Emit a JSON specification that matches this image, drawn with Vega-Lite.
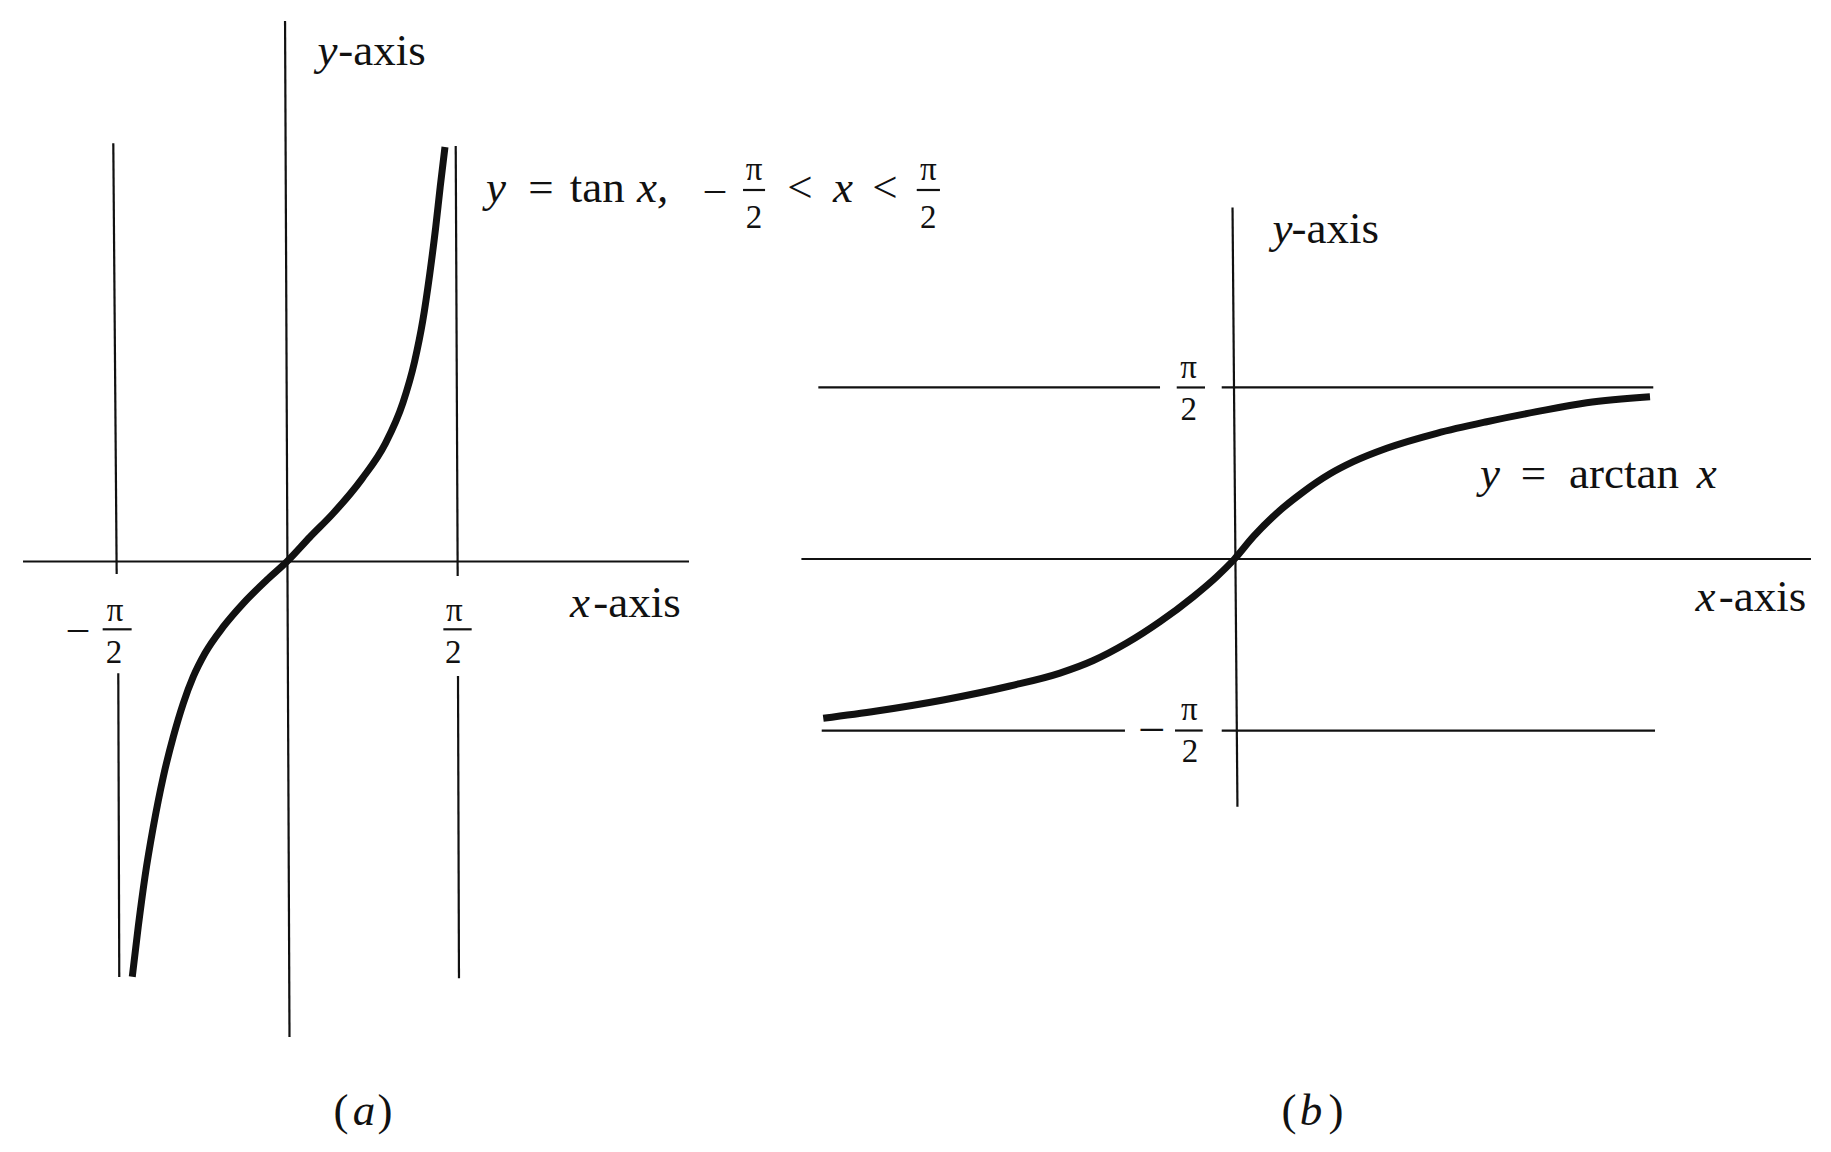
{
  "$schema": "https://vega.github.io/schema/vega-lite/v6.json",
  "width": 1831,
  "height": 1152,
  "padding": 0,
  "autosize": {"type": "none"},
  "background": "white",
  "config": {"view": {"stroke": null}},
  "datasets": {
    "tan_curve": [
      {"x": -1.426, "y": -3.827}, {"x": -1.371, "y": -3.366}, {"x": -1.309, "y": -2.905},
      {"x": -1.232, "y": -2.444}, {"x": -1.14, "y": -1.983}, {"x": -1.048, "y": -1.615},
      {"x": -0.956, "y": -1.307}, {"x": -0.864, "y": -1.062}, {"x": -0.756, "y": -0.846},
      {"x": -0.587, "y": -0.601}, {"x": -0.403, "y": -0.385}, {"x": -0.187, "y": -0.171},
      {"x": 0, "y": 0}, {"x": 0.212, "y": 0.226}, {"x": 0.422, "y": 0.44},
      {"x": 0.691, "y": 0.762}, {"x": 0.906, "y": 1.086}, {"x": 1.068, "y": 1.462},
      {"x": 1.175, "y": 1.839}, {"x": 1.251, "y": 2.217}, {"x": 1.315, "y": 2.646},
      {"x": 1.37, "y": 3.076}, {"x": 1.412, "y": 3.453}, {"x": 1.456, "y": 3.82}
    ],
    "tan_lines": [
      {"x": -2.433, "y": 0, "x2": 3.705, "y2": 0},
      {"x": -0.018, "y": 4.982, "x2": 0.023, "y2": -4.382},
      {"x": -1.601, "y": 3.854, "x2": -1.57, "y2": -0.115},
      {"x": -1.555, "y": -1.03, "x2": -1.546, "y2": -3.829},
      {"x": 1.555, "y": 3.829, "x2": 1.573, "y2": -0.134},
      {"x": 1.576, "y": -1.055, "x2": 1.585, "y2": -3.841},
      {"x": -1.699, "y": -0.625, "x2": -1.432, "y2": -0.625},
      {"x": 1.441, "y": -0.625, "x2": 1.702, "y2": -0.625},
      {"x": 4.203, "y": 3.424, "x2": 4.406, "y2": 3.424},
      {"x": 5.804, "y": 3.424, "x2": 6.018, "y2": 3.424}
    ],
    "tan_labels": [
      {"text": "y", "kind": "var", "x": 0.373, "y": 4.576},
      {"text": "-axis", "kind": "word", "x": 0.875, "y": 4.576},
      {"text": "x", "kind": "var", "x": 2.7, "y": -0.509},
      {"text": "-axis", "kind": "word", "x": 3.225, "y": -0.509},
      {"text": "y", "kind": "var", "x": 1.925, "y": 3.316},
      {"text": "=", "kind": "word", "x": 2.341, "y": 3.316},
      {"text": "tan", "kind": "word", "x": 2.86, "y": 3.316},
      {"text": "x,", "kind": "var", "x": 3.37, "y": 3.316},
      {"text": "–", "kind": "sign", "x": 3.945, "y": 3.32},
      {"text": "π", "kind": "small", "x": 4.304, "y": 3.516},
      {"text": "2", "kind": "small", "x": 4.304, "y": 3.071},
      {"text": "<", "kind": "word", "x": 4.728, "y": 3.316},
      {"text": "x", "kind": "var", "x": 5.124, "y": 3.316},
      {"text": "<", "kind": "word", "x": 5.512, "y": 3.316},
      {"text": "π", "kind": "small", "x": 5.911, "y": 3.516},
      {"text": "2", "kind": "small", "x": 5.911, "y": 3.071},
      {"text": "–", "kind": "sign", "x": -1.926, "y": -0.72},
      {"text": "π", "kind": "small", "x": -1.585, "y": -0.553},
      {"text": "2", "kind": "small", "x": -1.594, "y": -0.938},
      {"text": "π", "kind": "small", "x": 1.542, "y": -0.553},
      {"text": "2", "kind": "small", "x": 1.533, "y": -0.938},
      {"text": "(", "kind": "word", "x": 0.498, "y": -5.194},
      {"text": "a", "kind": "var", "x": 0.71, "y": -5.194},
      {"text": ")", "kind": "word", "x": 0.903, "y": -5.194}
    ],
    "atan_curve": [
      {"x": -3.766, "y": -1.459}, {"x": -3.277, "y": -1.392}, {"x": -2.668, "y": -1.291},
      {"x": -2.056, "y": -1.163}, {"x": -1.598, "y": -1.045}, {"x": -1.293, "y": -0.93},
      {"x": -0.987, "y": -0.77}, {"x": -0.682, "y": -0.574}, {"x": -0.377, "y": -0.345},
      {"x": -0.163, "y": -0.162}, {"x": 0, "y": 0}, {"x": 0.172, "y": 0.204},
      {"x": 0.386, "y": 0.418}, {"x": 0.63, "y": 0.615}, {"x": 0.875, "y": 0.78},
      {"x": 1.088, "y": 0.891}, {"x": 1.394, "y": 1.014}, {"x": 1.852, "y": 1.151},
      {"x": 2.31, "y": 1.257}, {"x": 2.767, "y": 1.349}, {"x": 3.225, "y": 1.431},
      {"x": 3.805, "y": 1.486}
    ],
    "atan_lines": [
      {"x": -3.966, "y": 0, "x2": 5.279, "y2": 0},
      {"x": -0.018, "y": 3.219, "x2": 0.027, "y2": -2.268},
      {"x": -3.811, "y": 1.5708, "x2": -0.682, "y2": 1.5708},
      {"x": -0.117, "y": 1.5708, "x2": 3.835, "y2": 1.5708},
      {"x": -3.78, "y": -1.5708, "x2": -1.003, "y2": -1.5708},
      {"x": -0.117, "y": -1.5708, "x2": 3.851, "y2": -1.5708},
      {"x": -0.529, "y": 1.5708, "x2": -0.27, "y2": 1.5708},
      {"x": -0.545, "y": -1.5708, "x2": -0.291, "y2": -1.5708}
    ],
    "atan_labels": [
      {"text": "y", "kind": "var", "x": 0.44, "y": 2.891},
      {"text": "-axis", "kind": "word", "x": 0.922, "y": 2.891},
      {"text": "x", "kind": "var", "x": 4.313, "y": -0.472},
      {"text": "-axis", "kind": "word", "x": 4.835, "y": -0.472},
      {"text": "y", "kind": "var", "x": 2.34, "y": 0.647},
      {"text": "=", "kind": "word", "x": 2.738, "y": 0.647},
      {"text": "arctan", "kind": "word", "x": 3.567, "y": 0.647},
      {"text": "x", "kind": "var", "x": 4.324, "y": 0.647},
      {"text": "π", "kind": "small", "x": -0.42, "y": 1.658},
      {"text": "2", "kind": "small", "x": -0.42, "y": 1.273},
      {"text": "–", "kind": "sign", "x": -0.758, "y": -1.654},
      {"text": "π", "kind": "small", "x": -0.413, "y": -1.474},
      {"text": "2", "kind": "small", "x": -0.408, "y": -1.856},
      {"text": "(", "kind": "word", "x": 0.499, "y": -5.183},
      {"text": "b", "kind": "var", "x": 0.701, "y": -5.183},
      {"text": ")", "kind": "word", "x": 0.93, "y": -5.183}
    ]
  },
  "layer": [
    {
      "layer": [
        {
          "data": {"name": "tan_lines"},
          "mark": {"type": "rule", "strokeWidth": 2.2, "color": "#111111"},
          "encoding": {
            "x": {"field": "x", "type": "quantitative", "scale": {"domain": [-2.6452, 14.2304], "nice": false, "zero": false}, "axis": null},
            "y": {"field": "y", "type": "quantitative", "scale": {"domain": [-5.4424, 5.1751], "nice": false, "zero": false}, "axis": null},
            "x2": {"field": "x2"},
            "y2": {"field": "y2"}
          }
        },
        {
          "data": {"name": "tan_curve"},
          "mark": {"type": "line", "strokeWidth": 7, "color": "#111111", "interpolate": "monotone"},
          "encoding": {
            "x": {"field": "x", "type": "quantitative", "scale": {"domain": [-2.6452, 14.2304], "nice": false, "zero": false}, "axis": null},
            "y": {"field": "y", "type": "quantitative", "scale": {"domain": [-5.4424, 5.1751], "nice": false, "zero": false}, "axis": null}
          }
        },
        {
          "data": {"name": "tan_labels"},
          "transform": [{"filter": "datum.kind === 'var'"}],
          "mark": {"type": "text", "font": "Liberation Serif", "fontSize": 45, "fontStyle": "italic", "align": "center", "baseline": "alphabetic", "color": "#111111"},
          "encoding": {
            "x": {"field": "x", "type": "quantitative", "scale": {"domain": [-2.6452, 14.2304], "nice": false, "zero": false}, "axis": null},
            "y": {"field": "y", "type": "quantitative", "scale": {"domain": [-5.4424, 5.1751], "nice": false, "zero": false}, "axis": null},
            "text": {"field": "text"}
          }
        },
        {
          "data": {"name": "tan_labels"},
          "transform": [{"filter": "datum.kind === 'word'"}],
          "mark": {"type": "text", "font": "Liberation Serif", "fontSize": 45, "align": "center", "baseline": "alphabetic", "color": "#111111"},
          "encoding": {
            "x": {"field": "x", "type": "quantitative", "scale": {"domain": [-2.6452, 14.2304], "nice": false, "zero": false}, "axis": null},
            "y": {"field": "y", "type": "quantitative", "scale": {"domain": [-5.4424, 5.1751], "nice": false, "zero": false}, "axis": null},
            "text": {"field": "text"}
          }
        },
        {
          "data": {"name": "tan_labels"},
          "transform": [{"filter": "datum.kind === 'small'"}],
          "mark": {"type": "text", "font": "Liberation Serif", "fontSize": 33, "align": "center", "baseline": "alphabetic", "color": "#111111"},
          "encoding": {
            "x": {"field": "x", "type": "quantitative", "scale": {"domain": [-2.6452, 14.2304], "nice": false, "zero": false}, "axis": null},
            "y": {"field": "y", "type": "quantitative", "scale": {"domain": [-5.4424, 5.1751], "nice": false, "zero": false}, "axis": null},
            "text": {"field": "text"}
          }
        },
        {
          "data": {"name": "tan_labels"},
          "transform": [{"filter": "datum.kind === 'sign'"}],
          "mark": {"type": "text", "font": "Liberation Serif", "fontSize": 40, "align": "center", "baseline": "alphabetic", "color": "#111111"},
          "encoding": {
            "x": {"field": "x", "type": "quantitative", "scale": {"domain": [-2.6452, 14.2304], "nice": false, "zero": false}, "axis": null},
            "y": {"field": "y", "type": "quantitative", "scale": {"domain": [-5.4424, 5.1751], "nice": false, "zero": false}, "axis": null},
            "text": {"field": "text"}
          }
        }
      ]
    },
    {
      "layer": [
        {
          "data": {"name": "atan_lines"},
          "mark": {"type": "rule", "strokeWidth": 2.2, "color": "#111111"},
          "encoding": {
            "x": {"field": "x", "type": "quantitative", "scale": {"domain": [-11.3049, 5.4625], "nice": false, "zero": false}, "axis": null},
            "y": {"field": "y", "type": "quantitative", "scale": {"domain": [-5.4304, 5.119], "nice": false, "zero": false}, "axis": null},
            "x2": {"field": "x2"},
            "y2": {"field": "y2"}
          }
        },
        {
          "data": {"name": "atan_curve"},
          "mark": {"type": "line", "strokeWidth": 7, "color": "#111111", "interpolate": "monotone"},
          "encoding": {
            "x": {"field": "x", "type": "quantitative", "scale": {"domain": [-11.3049, 5.4625], "nice": false, "zero": false}, "axis": null},
            "y": {"field": "y", "type": "quantitative", "scale": {"domain": [-5.4304, 5.119], "nice": false, "zero": false}, "axis": null}
          }
        },
        {
          "data": {"name": "atan_labels"},
          "transform": [{"filter": "datum.kind === 'var'"}],
          "mark": {"type": "text", "font": "Liberation Serif", "fontSize": 45, "fontStyle": "italic", "align": "center", "baseline": "alphabetic", "color": "#111111"},
          "encoding": {
            "x": {"field": "x", "type": "quantitative", "scale": {"domain": [-11.3049, 5.4625], "nice": false, "zero": false}, "axis": null},
            "y": {"field": "y", "type": "quantitative", "scale": {"domain": [-5.4304, 5.119], "nice": false, "zero": false}, "axis": null},
            "text": {"field": "text"}
          }
        },
        {
          "data": {"name": "atan_labels"},
          "transform": [{"filter": "datum.kind === 'word'"}],
          "mark": {"type": "text", "font": "Liberation Serif", "fontSize": 45, "align": "center", "baseline": "alphabetic", "color": "#111111"},
          "encoding": {
            "x": {"field": "x", "type": "quantitative", "scale": {"domain": [-11.3049, 5.4625], "nice": false, "zero": false}, "axis": null},
            "y": {"field": "y", "type": "quantitative", "scale": {"domain": [-5.4304, 5.119], "nice": false, "zero": false}, "axis": null},
            "text": {"field": "text"}
          }
        },
        {
          "data": {"name": "atan_labels"},
          "transform": [{"filter": "datum.kind === 'small'"}],
          "mark": {"type": "text", "font": "Liberation Serif", "fontSize": 33, "align": "center", "baseline": "alphabetic", "color": "#111111"},
          "encoding": {
            "x": {"field": "x", "type": "quantitative", "scale": {"domain": [-11.3049, 5.4625], "nice": false, "zero": false}, "axis": null},
            "y": {"field": "y", "type": "quantitative", "scale": {"domain": [-5.4304, 5.119], "nice": false, "zero": false}, "axis": null},
            "text": {"field": "text"}
          }
        },
        {
          "data": {"name": "atan_labels"},
          "transform": [{"filter": "datum.kind === 'sign'"}],
          "mark": {"type": "text", "font": "Liberation Serif", "fontSize": 44, "align": "center", "baseline": "alphabetic", "color": "#111111"},
          "encoding": {
            "x": {"field": "x", "type": "quantitative", "scale": {"domain": [-11.3049, 5.4625], "nice": false, "zero": false}, "axis": null},
            "y": {"field": "y", "type": "quantitative", "scale": {"domain": [-5.4304, 5.119], "nice": false, "zero": false}, "axis": null},
            "text": {"field": "text"}
          }
        }
      ]
    }
  ],
  "resolve": {"scale": {"x": "independent", "y": "independent"}}
}
